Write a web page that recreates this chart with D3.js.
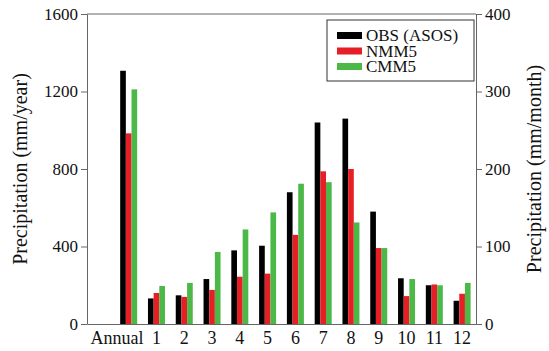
<!DOCTYPE html>
<html>
<head>
<meta charset="utf-8">
<script src="https://cdn.jsdelivr.net/npm/d3@7"></script>
<style>
  body { margin: 0; background: #fff; }
  svg text { font-family: "Liberation Serif", "DejaVu Serif", "Noto Serif", Tinos, Times, serif !important; }
  .axis path, .axis line { stroke: #666; }
</style>
</head>
<body>
<div id="chart"></div>
<script>
// categories on the x axis (first slot is left empty)
var categories = ["", "Annual", "1", "2", "3", "4", "5", "6", "7", "8", "9", "10", "11", "12"];
var seriesNames = ["OBS (ASOS)", "NMM5", "CMM5"];
var seriesColors = ["#000000", "#e61f26", "#4cb848"];

// annual totals (mm/year, left axis): OBS, NMM5, CMM5
var annualValues = [1307, 984, 1211];

// monthly totals (mm/month, right axis)
var monthlyObs = [33, 37, 58, 95, 101, 170, 260, 265, 145, 59, 50, 30];
var monthlyNMM5 = [40, 35, 44, 61, 65, 115, 197, 200, 98, 36, 51, 39];
var monthlyCMM5 = [49, 53, 93, 122, 144, 181, 183, 131, 98, 58, 50, 53];

var leftTicks = [0, 400, 800, 1200, 1600];
var rightTicks = [0, 100, 200, 300, 400];

var width = 549, height = 351;
var margin = { top: 14, right: 73, bottom: 27, left: 87 };

var svg = d3.select("#chart")
    .append("svg")
    .attr("width", width)
    .attr("height", height);

var x = d3.scaleBand()
    .domain(categories)
    .range([margin.left, width - margin.right]);

var xSub = d3.scaleBand()
    .domain(seriesNames)
    .range([0, 17]);

var yLeft = d3.scaleLinear()
    .domain([0, 1600])
    .range([height - margin.bottom, margin.top]);

var yRight = d3.scaleLinear()
    .domain([0, 400])
    .range([height - margin.bottom, margin.top]);

// build bar records
var bars = [];
seriesNames.forEach(function (s, i) {
    bars.push({ cat: "Annual", series: s, value: annualValues[i], axis: "left", color: seriesColors[i] });
});
var monthly = [monthlyObs, monthlyNMM5, monthlyCMM5];
categories.slice(2).forEach(function (c, m) {
    seriesNames.forEach(function (s, i) {
        bars.push({ cat: c, series: s, value: monthly[i][m], axis: "right", color: seriesColors[i] });
    });
});

svg.selectAll(".bar")
    .data(bars)
    .enter().append("rect")
    .attr("class", "bar")
    .attr("x", function (d) { return x(d.cat) + x.bandwidth() / 2 - 8.5 + xSub(d.series); })
    .attr("width", xSub.bandwidth())
    .attr("y", function (d) { return d.axis === "left" ? yLeft(d.value) : yRight(d.value); })
    .attr("height", function (d) {
        return (height - margin.bottom) - (d.axis === "left" ? yLeft(d.value) : yRight(d.value));
    })
    .style("fill", function (d) { return d.color; });

// top frame line
svg.append("line")
    .attr("x1", margin.left).attr("x2", width - margin.right)
    .attr("y1", margin.top).attr("y2", margin.top)
    .attr("stroke", "#666");

// x axis
var xAxis = svg.append("g")
    .attr("class", "axis")
    .attr("transform", "translate(0," + (height - margin.bottom) + ")")
    .call(d3.axisBottom(x).tickSize(0).tickPadding(7));
xAxis.attr("font-size", 18);
xAxis.selectAll("text")
    .attr("fill", "#111")
    .attr("text-anchor", function (d) { return d === "Annual" ? "end" : "middle"; })
    .attr("x", function (d) { return d === "Annual" ? x.bandwidth() / 2 + 1 : 0; });

// left axis
var leftAxis = svg.append("g")
    .attr("class", "axis")
    .attr("transform", "translate(" + margin.left + ",0)")
    .call(d3.axisLeft(yLeft).tickValues(leftTicks).tickFormat(d3.format("d"))
        .tickSize(6).tickPadding(3).tickSizeOuter(0));
leftAxis.attr("font-size", 17);
leftAxis.selectAll("text").attr("fill", "#111");

// right axis
var rightAxis = svg.append("g")
    .attr("class", "axis")
    .attr("transform", "translate(" + (width - margin.right) + ",0)")
    .call(d3.axisRight(yRight).tickValues(rightTicks).tickFormat(d3.format("d"))
        .tickSize(6).tickPadding(3).tickSizeOuter(0));
rightAxis.attr("font-size", 17);
rightAxis.selectAll("text").attr("fill", "#111");

// axis titles
svg.append("text")
    .attr("transform", "translate(20," + ((margin.top + height - margin.bottom) / 2) + ") rotate(-90)")
    .attr("text-anchor", "middle")
    .attr("dy", "0.35em")
    .attr("font-size", 20)
    .attr("fill", "#111")
    .text("Precipitation (mm/year)");

svg.append("text")
    .attr("transform", "translate(534," + ((margin.top + height - margin.bottom) / 2) + ") rotate(-90)")
    .attr("text-anchor", "middle")
    .attr("dy", "0.35em")
    .attr("font-size", 20)
    .attr("fill", "#111")
    .text("Precipitation (mm/month)");

// legend
var legend = svg.append("g");
legend.append("rect")
    .attr("x", 327).attr("y", 20)
    .attr("width", 147).attr("height", 61)
    .attr("fill", "#fff")
    .attr("stroke", "#333");

seriesNames.forEach(function (s, i) {
    var cy = 35.5 + i * 15.5;
    legend.append("rect")
        .attr("x", 337).attr("y", cy - 3.5)
        .attr("width", 25).attr("height", 7)
        .attr("fill", seriesColors[i]);
    legend.append("text")
        .attr("x", 366).attr("y", cy + 5.5)
        .attr("font-size", 17)
        .attr("fill", "#111")
        .text(s);
});
</script>
</body>
</html>
